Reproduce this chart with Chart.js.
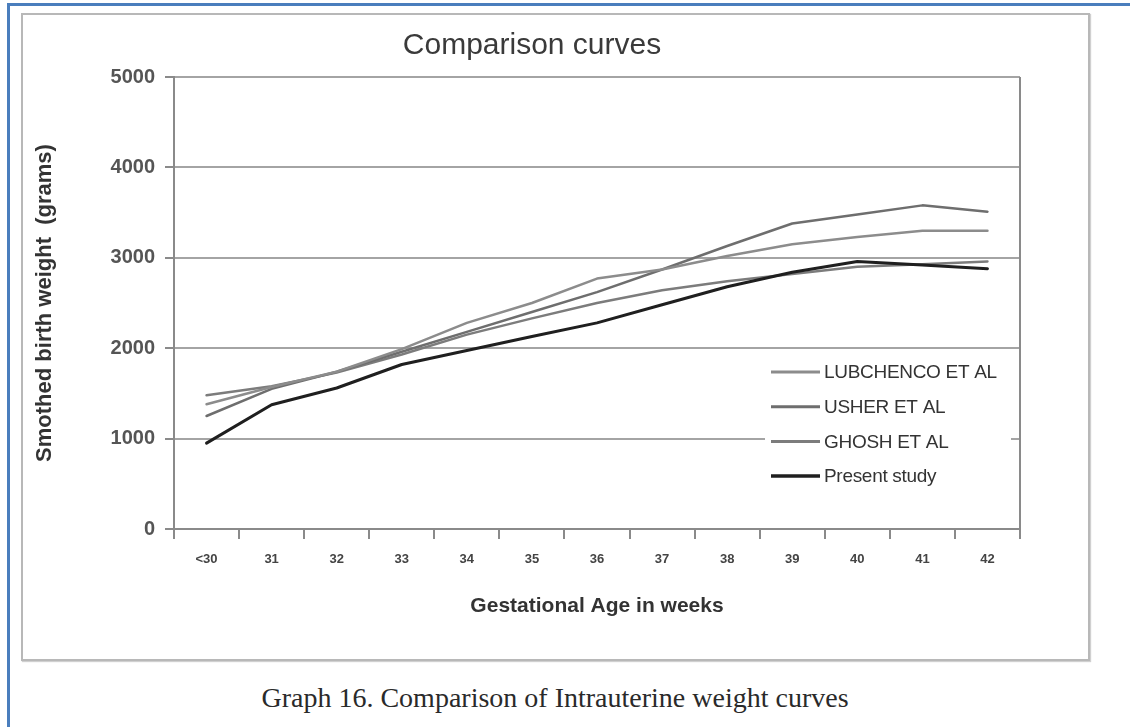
<!DOCTYPE html>
<html>
<head>
<meta charset="utf-8">
<script src="https://cdn.jsdelivr.net/npm/chart.js@4/dist/chart.umd.min.js"></script>
<style>
  body { margin: 0; width: 1130px; height: 727px; background: #fff; position: relative; overflow: hidden; }
  #frame { position: absolute; left: 7px; top: 3px; width: 1130px; height: 740px;
           border-top: 3px solid #4a7ebd; border-left: 3px solid #4a7ebd; }
  #box { position: absolute; left: 21px; top: 13px; width: 1065px; height: 644px;
         border: 2px solid #b8b8b8; box-shadow: 1px 1px 1px #d0d0d0; background: #fff; }
  #box canvas { position: absolute; left: 0; top: 0; }
  #caption { position: absolute; left: 0; top: 682px; width: 1110px; text-align: center;
             font-family: 'Liberation Serif', 'Times New Roman', serif; font-size: 28px; color: #2a2a2a; }
</style>
</head>
<body>
<div id="frame"></div>
<div id="box"><canvas id="weightChart" width="1065" height="644"></canvas></div>
<div id="caption">Graph 16. Comparison of Intrauterine weight curves</div>
<script>
// Data
const weeks = ['<30', '31', '32', '33', '34', '35', '36', '37', '38', '39', '40', '41', '42'];
const lubchenco = [1380, 1570, 1740, 1990, 2280, 2500, 2770, 2870, 3020, 3150, 3230, 3300, 3300];
const usher = [1250, 1550, 1740, 1960, 2180, 2400, 2620, 2870, 3130, 3380, 3480, 3580, 3510];
const ghosh = [1480, 1580, 1730, 1930, 2150, 2330, 2500, 2640, 2740, 2820, 2900, 2930, 2960];
const presentStudy = [950, 1375, 1560, 1820, 1975, 2130, 2280, 2480, 2680, 2840, 2960, 2920, 2880];
const yTicks = [0, 1000, 2000, 3000, 4000, 5000];

const FONT = "'Liberation Sans', Arial, sans-serif";

// Title, right border and the in-plot legend
const decorations = {
    id: 'decorations',
    afterDraw(chart) {
        const { ctx, chartArea } = chart;
        ctx.save();

        // chart title
        ctx.fillStyle = '#3a3a3a';
        ctx.font = '30px ' + FONT;
        ctx.textAlign = 'center';
        ctx.textBaseline = 'middle';
        ctx.fillText('Comparison curves', 509, 31);

        // right frame line of the plot
        ctx.strokeStyle = '#8a8a8a';
        ctx.lineWidth = 2;
        ctx.beginPath();
        ctx.moveTo(chartArea.right, chartArea.top);
        ctx.lineTo(chartArea.right, chartArea.bottom);
        ctx.stroke();

        // legend box (white, hides the gridline behind it)
        const bx = chartArea.right - 255;
        const by = chartArea.top + 278;
        ctx.fillStyle = '#fff';
        ctx.fillRect(bx, by, 246, 138);

        ctx.font = '19px ' + FONT;
        ctx.textAlign = 'left';
        ctx.letterSpacing = '-0.3px';
        chart.data.datasets.forEach((ds, i) => {
            const y = chartArea.top + 295 + i * 34.7;
            ctx.strokeStyle = ds.borderColor;
            ctx.lineWidth = ds.borderWidth + 0.5;
            ctx.beginPath();
            ctx.moveTo(bx + 6, y);
            ctx.lineTo(bx + 55, y);
            ctx.stroke();
            ctx.fillStyle = '#333';
            ctx.fillText(ds.label, bx + 59, y + 1);
        });
        ctx.restore();
    }
};

new Chart(document.getElementById('weightChart'), {
    type: 'line',
    data: {
        labels: weeks,
        datasets: [
            { label: 'LUBCHENCO ET AL', data: lubchenco, borderColor: '#8c8c8c', borderWidth: 2.5, order: 1 },
            { label: 'USHER ET AL', data: usher, borderColor: '#6e6e6e', borderWidth: 2.5, order: 1 },
            { label: 'GHOSH ET AL', data: ghosh, borderColor: '#7c7c7c', borderWidth: 2.5, order: 1 },
            { label: 'Present study', data: presentStudy, borderColor: '#1f1f1f', borderWidth: 3, order: 0 }
        ]
    },
    options: {
        responsive: false,
        animation: false,
        devicePixelRatio: 1,
        layout: { padding: { top: 62, right: 68, left: 0, bottom: 0 } },
        elements: {
            point: { radius: 0 },
            line: { tension: 0, fill: false, borderCapStyle: 'round', borderJoinStyle: 'round' }
        },
        plugins: {
            legend: { display: false },
            title: { display: false },
            tooltip: { enabled: false }
        },
        scales: {
            x: {
                type: 'category',
                offset: true,
                grid: { display: true, drawOnChartArea: false, drawTicks: true, tickLength: 10,
                        color: '#8a8a8a', lineWidth: 2, offset: true },
                border: { display: true, color: '#8a8a8a', width: 2 },
                ticks: { padding: 13, autoSkip: false, maxRotation: 0, color: '#444',
                         font: { family: FONT, size: 13, weight: 'bold' } },
                title: { display: true, text: 'Gestational Age in weeks', color: '#333',
                         font: { family: FONT, size: 21, weight: 'bold' }, padding: { top: 0, bottom: 40 } },
                afterFit(scale) { scale.height = 130; }
            },
            y: {
                min: 0,
                max: 5000,
                afterBuildTicks(scale) { scale.ticks = yTicks.map(v => ({ value: v })); },
                grid: { color: '#a4a4a4', lineWidth: 2, tickLength: 9, tickColor: '#8a8a8a', drawTicks: true },
                border: { display: true, color: '#8a8a8a', width: 2 },
                ticks: { padding: 10, color: '#555', font: { family: FONT, size: 20, weight: 'bold' },
                         callback: v => String(v) },
                title: { display: true, text: 'Smothed birth weight  (grams)', color: '#333',
                         font: { family: FONT, size: 22, weight: 'bold' }, padding: { top: 9, bottom: 0 } },
                afterFit(scale) { scale.width = 151; }
            }
        }
    },
    plugins: [decorations]
});
</script>
</body>
</html>
